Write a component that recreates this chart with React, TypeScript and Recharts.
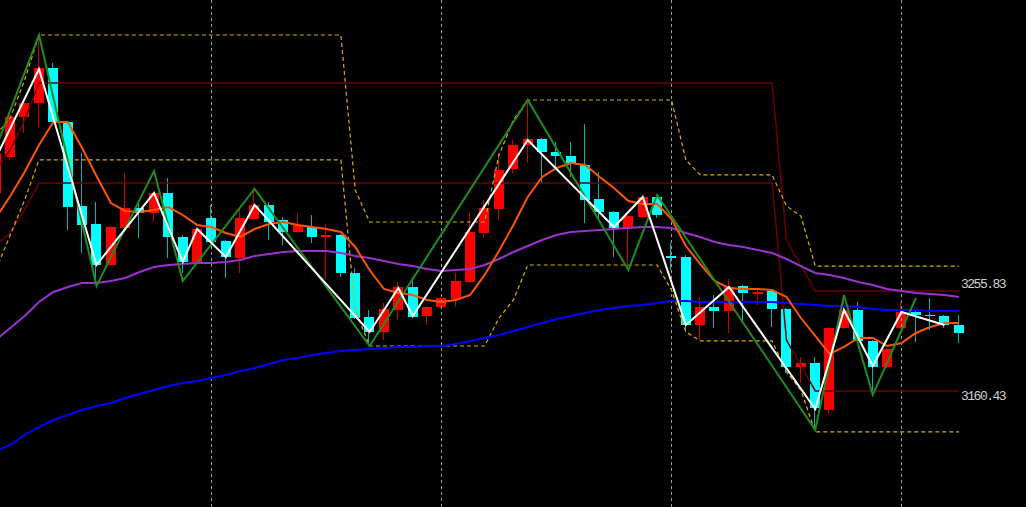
import { ComposedChart, Bar, Line, XAxis, YAxis, ReferenceLine } from 'recharts';

// OHLC per bar, first entry is the half-hidden bar at the left edge
const opens = [3349.3, 3383.6, 3421.8, 3435.1, 3468.5, 3417.0, 3336.9, 3319.7, 3280.6, 3315.9, 3335.0, 3330.2, 3349.3, 3307.3, 3283.5, 3325.4, 3303.5, 3287.3, 3324.5, 3337.8, 3323.5, 3312.1, 3316.8, 3307.3, 3309.2, 3273.0, 3231.0, 3216.7, 3237.7, 3259.6, 3231.9, 3240.5, 3248.2, 3264.4, 3311.1, 3334.0, 3372.2, 3395.1, 3400.8, 3388.4, 3384.6, 3376.0, 3343.6, 3331.2, 3315.9, 3326.4, 3345.5, 3289.2, 3288.2, 3223.4, 3240.5, 3236.7, 3260.6, 3252.9, 3255.8, 3238.6, 3183.3, 3187.1, 3142.3, 3220.5, 3237.7, 3208.1, 3183.3, 3220.5, 3235.8, 3232.9, 3231.9, 3223.4];
const highs = [3390.3, 3426.6, 3438.0, 3500.0, 3473.3, 3418.0, 3387.4, 3340.7, 3317.8, 3368.4, 3342.6, 3350.2, 3363.6, 3309.2, 3315.9, 3337.8, 3304.4, 3335.0, 3354.1, 3340.7, 3326.4, 3330.2, 3328.3, 3319.7, 3310.2, 3277.7, 3237.7, 3244.3, 3264.4, 3269.1, 3241.5, 3250.1, 3273.0, 3330.2, 3342.6, 3387.4, 3399.8, 3438.0, 3401.8, 3397.9, 3397.9, 3415.1, 3369.3, 3332.1, 3328.3, 3347.4, 3347.4, 3301.6, 3290.1, 3250.1, 3252.0, 3267.2, 3261.5, 3258.7, 3256.7, 3239.6, 3192.8, 3192.8, 3221.4, 3252.0, 3245.3, 3209.0, 3201.4, 3245.3, 3236.7, 3249.1, 3232.9, 3232.9];
const lows = [3346.4, 3380.8, 3406.5, 3412.2, 3416.1, 3314.0, 3292.0, 3263.4, 3279.6, 3314.9, 3306.4, 3321.6, 3287.3, 3273.0, 3282.5, 3301.6, 3268.2, 3273.0, 3323.5, 3304.4, 3299.7, 3311.1, 3301.6, 3267.2, 3269.1, 3229.1, 3206.2, 3209.0, 3228.1, 3230.0, 3223.4, 3239.6, 3240.5, 3263.4, 3306.4, 3323.5, 3368.4, 3377.9, 3359.8, 3374.1, 3364.5, 3320.7, 3325.4, 3288.2, 3275.8, 3325.4, 3325.4, 3275.8, 3216.7, 3209.0, 3220.5, 3215.7, 3225.3, 3242.4, 3221.4, 3177.6, 3168.0, 3123.2, 3139.4, 3219.5, 3207.1, 3156.6, 3182.3, 3219.5, 3207.1, 3218.6, 3220.5, 3206.2];
const closes = [3387.4, 3421.8, 3435.1, 3468.5, 3417.0, 3335.9, 3318.8, 3280.6, 3316.8, 3335.0, 3330.2, 3349.3, 3307.3, 3283.5, 3314.9, 3302.5, 3288.2, 3325.4, 3337.8, 3321.6, 3312.1, 3318.8, 3307.3, 3309.2, 3273.0, 3230.0, 3216.7, 3238.6, 3259.6, 3231.0, 3240.5, 3249.1, 3265.3, 3312.1, 3335.0, 3371.2, 3395.1, 3400.8, 3388.4, 3384.6, 3377.9, 3342.6, 3331.2, 3315.9, 3327.3, 3345.5, 3328.3, 3287.3, 3223.4, 3240.5, 3236.7, 3259.6, 3253.9, 3254.8, 3238.6, 3183.3, 3187.1, 3144.2, 3220.5, 3237.7, 3208.1, 3183.3, 3200.5, 3235.8, 3232.9, 3231.9, 3223.4, 3215.7];

// moving averages
const maFast = [3325.4, 3346.4, 3369.3, 3395.1, 3417.0, 3417.0, 3392.2, 3365.5, 3339.7, 3332.1, 3331.2, 3333.1, 3335.9, 3328.3, 3318.8, 3316.8, 3311.1, 3307.3, 3314.9, 3319.7, 3321.6, 3318.8, 3316.8, 3314.9, 3312.1, 3297.8, 3275.8, 3257.7, 3253.9, 3252.0, 3247.2, 3245.3, 3247.2, 3252.0, 3271.1, 3294.0, 3318.8, 3345.5, 3364.5, 3373.1, 3377.9, 3376.0, 3364.5, 3354.1, 3341.6, 3338.8, 3338.8, 3324.5, 3298.7, 3281.5, 3265.3, 3258.7, 3257.7, 3257.7, 3256.7, 3250.1, 3230.0, 3212.9, 3195.7, 3202.4, 3211.0, 3211.0, 3203.3, 3206.2, 3215.7, 3221.4, 3225.3, 3225.3];
const maMid = [3209.0, 3220.5, 3231.9, 3245.3, 3254.8, 3259.6, 3263.4, 3263.4, 3265.3, 3268.2, 3273.9, 3278.7, 3280.6, 3281.5, 3282.5, 3282.5, 3283.5, 3285.4, 3289.2, 3291.1, 3293.0, 3294.0, 3294.0, 3294.0, 3292.0, 3289.2, 3287.3, 3284.4, 3281.5, 3279.6, 3276.8, 3274.9, 3275.8, 3276.8, 3280.6, 3286.3, 3293.0, 3298.7, 3304.4, 3309.2, 3312.1, 3313.0, 3314.0, 3314.9, 3315.9, 3316.8, 3316.8, 3315.9, 3311.1, 3307.3, 3302.5, 3299.7, 3297.8, 3294.9, 3292.0, 3286.3, 3279.6, 3273.0, 3271.1, 3268.2, 3264.4, 3261.5, 3257.7, 3255.8, 3253.9, 3252.9, 3252.0, 3250.1];
const maSlow = [3103.1, 3108.9, 3118.4, 3126.0, 3132.7, 3137.5, 3142.3, 3146.1, 3148.9, 3153.7, 3157.5, 3161.3, 3165.2, 3168.0, 3169.9, 3172.8, 3175.7, 3179.5, 3182.3, 3186.1, 3190.0, 3191.9, 3194.7, 3196.6, 3198.6, 3199.5, 3200.5, 3201.4, 3202.4, 3202.4, 3203.3, 3203.3, 3205.2, 3208.1, 3211.0, 3213.8, 3217.6, 3221.4, 3225.3, 3229.1, 3231.9, 3234.8, 3237.7, 3239.6, 3241.5, 3242.4, 3244.3, 3246.3, 3246.3, 3245.3, 3245.3, 3245.3, 3245.3, 3245.3, 3245.3, 3244.3, 3243.4, 3242.4, 3241.5, 3241.5, 3240.5, 3238.6, 3237.7, 3237.7, 3237.7, 3236.7, 3236.7, 3236.7];

// zigzags and channels as [bar, price] vertices
const greenZig: [number, number][] = [[-1, 3392.2], [2, 3500.0], [6, 3260.6], [10, 3370.3], [12, 3265.3], [17, 3353.1], [25, 3203.3], [36, 3438.0], [43, 3275.8], [45, 3347.4], [56, 3123.2], [58, 3252.0], [60, 3156.6], [63, 3249.1]];
const whiteZig: [number, number][] = [[-1, 3382.7], [2, 3467.6], [6, 3280.6], [10, 3349.3], [12, 3283.5], [13, 3314.9], [15, 3288.2], [17, 3337.8], [25, 3216.7], [27, 3258.7], [28, 3231.9], [36, 3399.8], [42, 3316.8], [44, 3345.5], [47, 3223.4], [50, 3259.6], [56, 3143.2], [58, 3237.7], [60, 3184.2], [62, 3235.8], [65, 3223.4]];
const upperBand: [number, number][] = [[-1, 3404.6], [0, 3420.8], [1, 3457.1], [2, 3500.0], [23, 3500.0], [24, 3352.1], [25, 3321.6], [33, 3321.6], [34, 3385.5], [35, 3418.9], [36, 3438.0], [46, 3438.0], [47, 3380.8], [48, 3366.5], [53, 3366.5], [54, 3336.9], [55, 3327.3], [56, 3279.6], [66, 3279.6]];
const lowerBand: [number, number][] = [[-1, 3275.8], [0, 3309.2], [1, 3342.6], [2, 3380.8], [23, 3380.8], [24, 3237.7], [25, 3203.3], [33, 3203.3], [34, 3230.0], [35, 3247.2], [36, 3280.6], [45, 3280.6], [46, 3256.7], [47, 3216.7], [48, 3208.1], [53, 3208.1], [54, 3178.5], [55, 3161.3], [56, 3121.3], [66, 3121.3]];
const upperStop: [number, number][] = [[-1, 3371.2], [0, 3390.3], [1, 3418.9], [2, 3454.2], [53, 3454.2], [54, 3304.4], [56, 3255.83], [66, 3255.83]];
const lowerStop: [number, number][] = [[-1, 3299.7], [0, 3311.1], [1, 3333.1], [2, 3358.8], [53, 3358.8], [54, 3209.0], [56, 3160.43], [66, 3160.43]];

const priceTags = [
  { value: 3255.83, shift: -6 },
  { value: 3160.43, shift: 6 },
];
const gridBars = [14, 30, 46, 62];

const pick = (pts: [number, number][], bar: number) => {
  const hit = pts.find((p) => p[0] === bar);
  return hit ? hit[1] : null;
};

const rows = opens.map((_, k) => {
  const bar = k - 1;
  return {
    bar,
    open: opens[k],
    high: highs[k],
    low: lows[k],
    close: closes[k],
    fast: maFast[k],
    mid: maMid[k],
    slow: maSlow[k],
    zigG: pick(greenZig, bar),
    zigW: pick(whiteZig, bar),
    upBand: pick(upperBand, bar),
    lowBand: pick(lowerBand, bar),
    upStop: pick(upperStop, bar),
    lowStop: pick(lowerStop, bar),
  };
});

const UP = '#ff0000';
const DOWN = '#00ffff';

// bar gets [low, high]; body is placed from the same pixel/price ratio
function Candle(props: any) {
  const { x, y, width, height, payload } = props;
  if (payload == null || height == null) return null;
  const { open, close, high, low } = payload;
  const top = Math.min(y, y + height);
  const h = Math.abs(height);
  const ppu = h / (high - low);
  const bx = Math.round(x + width / 2) - 5;
  const up = close >= open;
  const bt = Math.round(top + (high - Math.max(open, close)) * ppu);
  const bb = Math.round(top + (high - Math.min(open, close)) * ppu);
  return (
    <g>
      <rect x={bx + 4} y={Math.round(top)} width={1} height={Math.max(1, Math.round(h))} fill={up ? '#c80000' : '#00b4b4'} />
      <rect x={bx} y={bt} width={10} height={Math.max(1, bb - bt)} fill={up ? UP : DOWN} />
    </g>
  );
}

const tag = (text: string, shift: number) => (props: any) => {
  const vb = props.viewBox || {};
  return (
    <text
      x={vb.x + vb.width - 5.2}
      y={vb.y + shift}
      fill="#d0d0d0"
      fontSize={13}
      letterSpacing={-1.5}
      fontFamily="Liberation Mono, DejaVu Sans Mono, monospace"
      dominantBaseline="central"
    >
      {text}
    </text>
  );
};

export default function App() {
  return (
    <div style={{ position: 'absolute', left: 0, top: 0, width: 1026, height: 507, background: '#000', overflow: 'hidden' }}>
      <div style={{ position: 'absolute', left: -12, top: 0 }}>
        <ComposedChart
          width={1045}
          height={507}
          data={rows}
          margin={{ top: 0, right: 66.8125, bottom: 0, left: 0.6875 }}
        >
          <XAxis dataKey="bar" type="category" hide />
          <YAxis type="number" domain={[3049.7, 3533.4]} allowDataOverflow hide />

          {gridBars.map((b) => (
            <ReferenceLine key={b} x={b} stroke="#9c9c9c" strokeDasharray="3 3" />
          ))}

          <Bar
            dataKey={(d: any) => [d.low, d.high]}
            barSize={10}
            shape={Candle}
            isAnimationActive={false}
          />

          <Line dataKey="upStop" stroke="#680000" strokeWidth={1.5} dot={false} activeDot={false} connectNulls isAnimationActive={false} />
          <Line dataKey="lowStop" stroke="#680000" strokeWidth={1.5} dot={false} activeDot={false} connectNulls isAnimationActive={false} />
          <Line dataKey="upBand" stroke="#d8b000" strokeWidth={1.2} strokeDasharray="4 3" dot={false} activeDot={false} connectNulls isAnimationActive={false} />
          <Line dataKey="lowBand" stroke="#d8b000" strokeWidth={1.2} strokeDasharray="4 3" dot={false} activeDot={false} connectNulls isAnimationActive={false} />
          <Line dataKey="slow" stroke="#0000ff" strokeWidth={2} dot={false} activeDot={false} isAnimationActive={false} />
          <Line dataKey="mid" stroke="#9a32cd" strokeWidth={2} dot={false} activeDot={false} isAnimationActive={false} />
          <Line dataKey="fast" stroke="#ff5500" strokeWidth={2} dot={false} activeDot={false} isAnimationActive={false} />
          <Line dataKey="zigG" stroke="#1f8c1f" strokeWidth={2} dot={false} activeDot={false} connectNulls isAnimationActive={false} />
          <Line dataKey="zigW" stroke="#ffffff" strokeWidth={2} dot={false} activeDot={false} connectNulls isAnimationActive={false} />

          {priceTags.map((t) => (
            <ReferenceLine
              key={t.value}
              y={t.value}
              stroke="none"
              label={tag(t.value.toFixed(2), t.shift)}
            />
          ))}
        </ComposedChart>
      </div>
    </div>
  );
}
